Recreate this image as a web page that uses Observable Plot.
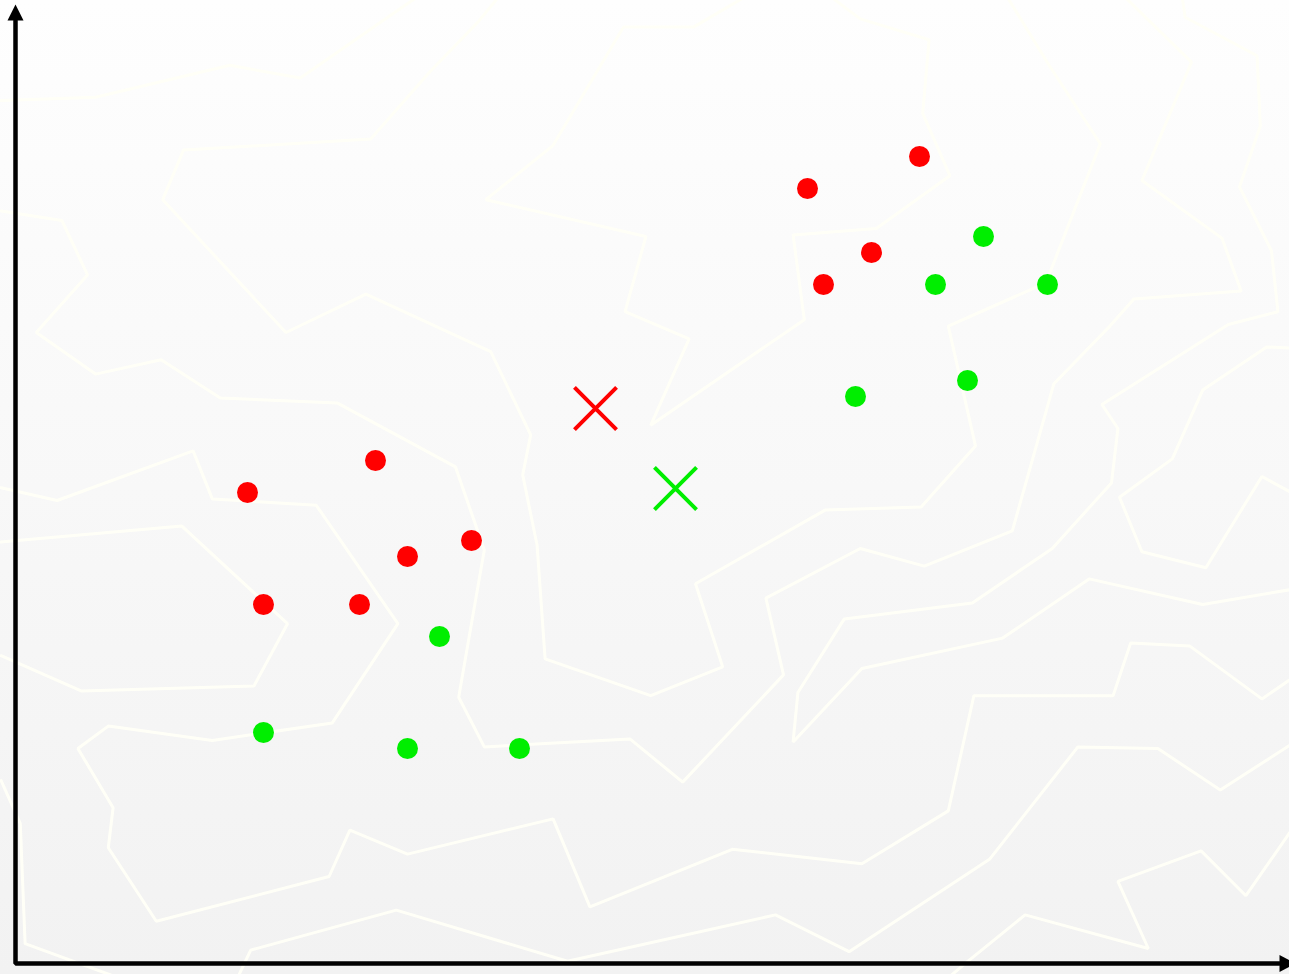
<!DOCTYPE html>
<html>
<head>
<meta charset="utf-8">
<script src="https://cdn.jsdelivr.net/npm/d3@7"></script>
<script src="https://cdn.jsdelivr.net/npm/@observablehq/plot@0.6"></script>
<style>
  html, body { margin: 0; padding: 0; overflow: hidden; background: #f6f6f6; }
  #chart svg { display: block; }
</style>
</head>
<body>
<div id="chart"></div>
<script>
// ---- Data (grid units) ----
const redX = [15, 23, 29, 25, 16, 22, 50, 57, 54, 51];
const redY = [30, 32, 27, 26, 23, 23, 49, 51, 45, 43];
const greenX = [27, 16, 25, 32, 61, 58, 65, 53, 60];
const greenY = [21, 15, 14, 14, 46, 43, 43, 36, 37];
const centroidX = [36.75, 41.75];
const centroidY = [35.25, 30.25];
const centroidCluster = ["red", "green"];

// faint background contour lines: [x, y] vertices
const contourA = [[-0.4,54.5],[5.5,54.7],[13.9,56.7],[18.3,55.9],[23.9,59.8],[25.8,61.1]];
const contourB = [[30.8,61.1],[29.4,59.4],[26.4,56.3],[22.7,52.1],[11,51.4],[9.7,48.3],[17.4,40],[22.4,42.4],[30.2,38.8],[32.7,33.6],[32.2,31.1],[33.1,26.7],[33.6,19.6],[40.2,17.3],[44.7,19.1],[43,24.3],[51.1,28.9],[57.1,29.1],[60.5,32.9],[58.8,40.4],[64.9,43.1],[68.3,51.8],[65.1,56.7],[62.4,61.1]];
const contourC = [[46.3,61.1],[42.9,59.1],[38.5,59.1],[34.1,51.7],[29.9,48.3],[39.9,46],[38.6,41.3],[42.6,39.6],[40.2,34.2],[49.8,40.8],[49.1,46.1],[54.3,46.5],[58.9,49.8],[57.2,53.7],[57.6,58.3],[53.3,59.6],[51.3,61.1]];
const contourD = [[-0.4,47.6],[3.4,47],[5,43.6],[1.8,40],[5.5,37.4],[9.6,38.3],[13.3,35.9],[20.6,35.6],[28,31.6],[29.8,26.4],[28.7,20.1],[28.2,17.2],[29.8,14.1],[38.9,14.6],[42.2,11.9],[48.5,18.6],[47.4,23.4],[53.3,26.5],[57.3,25.4],[62.8,27.6],[65.4,36.8],[68.9,40.4],[70.4,42.1],[77.1,42.6],[75.9,45.9],[70.9,49.5],[74,56.9],[69.7,61.1]];
const contourE = [[-0.4,30.3],[3.1,29.5],[11.6,32.6],[12.8,29.6],[19.3,29.2],[24.4,21.8],[20.3,15.6],[12.8,14.5],[6.3,15.4],[4.4,14],[6.6,10.3],[6.3,7.8],[9.3,3.2],[20.1,6],[21.4,8.9],[25,7.4],[34.1,9.6],[36.4,4.1],[45.3,7.7],[53.4,6.8],[58.8,10.1],[60.4,17.3],[69.1,17.3],[70.2,20.6],[73.9,20.4],[78.4,17.1],[80.6,18.6]];
const contourF = [[-0.4,19.8],[4.6,17.6],[15.4,17.9],[17.5,21.8],[10.9,27.9],[0.6,27],[-0.4,26.9]];
const contourG = [[14.3,-0.5],[15.2,1.4],[24.3,3.9],[35,0.7],[48,3.6],[52.6,1.3],[61.4,7.1],[66.9,14.1],[71.9,14],[75.8,11.4],[80.6,14.5]];
const contourG2 = [[-0.4,12],[0.8,9.3],[1.1,1.8],[7.4,-0.5]];
const contourH = [[73.4,61.1],[73.6,59.7],[78.1,57.3],[78.3,52.9],[77,49.1],[79,45.1],[79.4,41.3],[76.3,40.5],[68.4,35.5],[69.4,34],[69,30.6],[65.3,26.5],[60.3,23.1],[52.3,22.1],[49.4,17.5],[49.1,14.4],[53.4,19],[62.2,20.9],[67.6,24.6],[74.7,23],[80.6,24]];
const contourI = [[80.6,39],[78.7,39.1],[74.7,36.4],[72.8,32.1],[69.5,29.7],[70.9,26.3],[74.9,25.3],[78.4,31],[80.6,29.8]];
const contourJ = [[80.6,9.4],[77.4,4.8],[74.6,7.6],[69.4,5.7],[71.3,1.5],[63.6,3.6],[59.9,0.6],[58.6,-0.5]];

// axes
const axisX0 = 0.5, axisY0 = 0.5625, axisXEnd = 79.5, axisYEnd = 59.5;

// ---- Build tables ----
const points = [
  ...redX.map((x, i) => ({x, y: redY[i], cluster: "red"})),
  ...greenX.map((x, i) => ({x, y: greenY[i], cluster: "green"}))
];
const centroids = centroidX.map((x, i) => ({x, y: centroidY[i], cluster: centroidCluster[i]}));
const contours = [contourA, contourB, contourC, contourD, contourE, contourF, contourG, contourG2, contourH, contourI, contourJ]
  .flatMap((line, id) => line.map(([x, y]) => ({id, x, y})));
const axisPath = [
  {x: axisX0, y: axisYEnd},
  {x: axisX0, y: axisY0},
  {x: axisXEnd, y: axisY0}
];

const arrowUp = {draw(ctx) { ctx.moveTo(-8, 0); ctx.lineTo(0, -16); ctx.lineTo(8, 0); ctx.closePath(); }};
const arrowRight = {draw(ctx) { ctx.moveTo(0, -8.5); ctx.lineTo(16, 0); ctx.lineTo(0, 8.5); ctx.closePath(); }};

const colors = {red: "#ff0000", green: "#00ee00"};

const chart = Plot.plot({
  width: 1289,
  height: 974,
  margin: 0,
  x: {domain: [-7/16, 1282/16], axis: null},
  y: {domain: [-2/16, 972/16], axis: null},
  style: {background: "linear-gradient(to bottom, #fefefe 0%, #f8f8f8 50%, #f2f2f2 100%)", overflow: "hidden"},
  marks: [
    Plot.line(contours, {x: "x", y: "y", z: "id", stroke: "#fffff7", strokeWidth: 3, strokeLinejoin: "miter"}),
    Plot.line(axisPath, {x: "x", y: "y", stroke: "black", strokeWidth: 4.5, strokeLinejoin: "miter"}),
    Plot.dot([{x: axisX0, y: axisYEnd}], {x: "x", y: "y", symbol: arrowUp, fill: "black", stroke: "none", r: 8}),
    Plot.dot([{x: axisXEnd, y: axisY0}], {x: "x", y: "y", symbol: arrowRight, fill: "black", stroke: "none", r: 8}),
    Plot.dot(points, {x: "x", y: "y", r: 10.5, fill: d => colors[d.cluster], stroke: "none"}),
    Plot.dot(centroids, {x: "x", y: "y", symbol: "times", r: 19.2, stroke: d => colors[d.cluster], strokeWidth: 4})
  ]
});
document.getElementById("chart").appendChild(chart);
</script>
</body>
</html>
